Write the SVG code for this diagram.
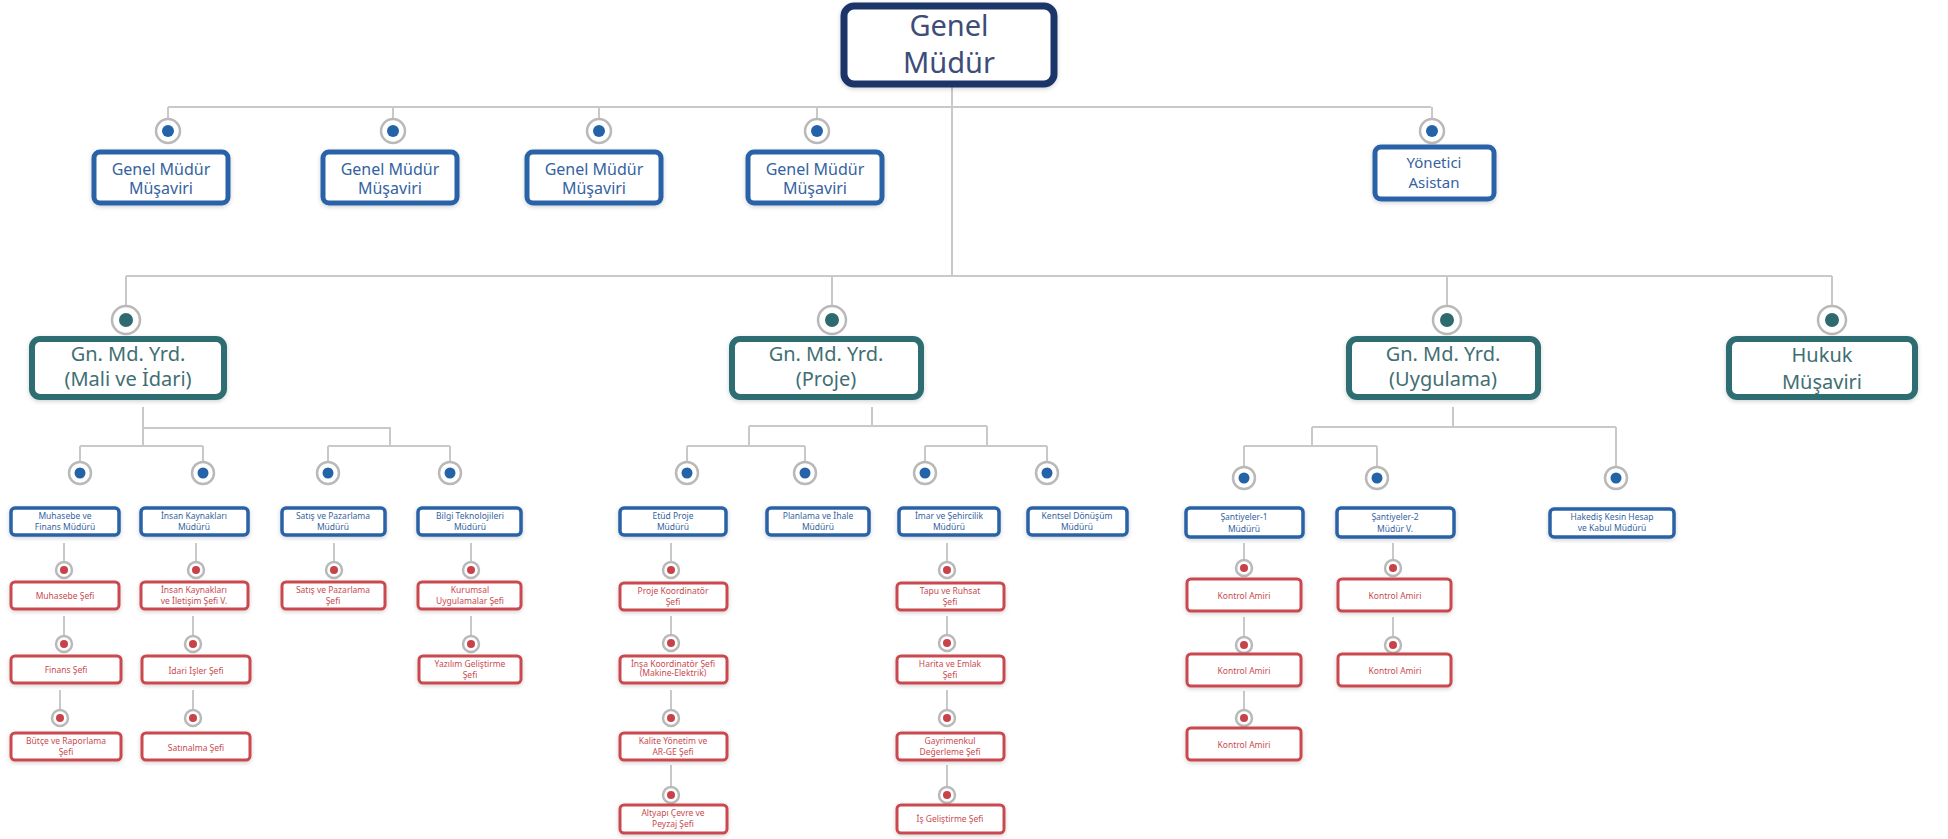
<svg xmlns="http://www.w3.org/2000/svg" width="1948" height="839" viewBox="0 0 1948 839">
<defs>
<filter id="sh" x="-10%" y="-20%" width="120%" height="140%"><feDropShadow dx="0" dy="1.5" stdDeviation="2" flood-color="#000" flood-opacity="0.18"/></filter>
<style>
text{font-family:"Noto Sans","DejaVu Sans",sans-serif;text-anchor:middle}
.ln{stroke:#c9c9c9;stroke-width:2;fill:none}
.ring{fill:#fff;stroke:#b9b9b9;stroke-width:2.5}
.gm rect{fill:#fff;stroke:#1e3569;stroke-width:7;filter:url(#sh)}
.gm text{fill:#3d4d78;font-size:29px}
.bl rect{fill:#fff;stroke:#2a62a8;stroke-width:5;filter:url(#sh)}
.bl text{fill:#3463a0}
.bs rect{fill:#fff;stroke:#2a62a8;stroke-width:3.5;filter:url(#sh)}
.bs text{fill:#3463a0;font-size:8.5px}
.tl rect{fill:#fff;stroke:#2f6e73;stroke-width:6;filter:url(#sh)}
.tl text{fill:#3f6f73;font-size:20px}
.rd rect{fill:#fff;stroke:#c94a50;stroke-width:3;filter:url(#sh)}
.rd text{fill:#c94a50;font-size:8.5px}
.db{fill:#2563a8}.dt{fill:#2e6b70}.dr{fill:#c9424a}
</style>
</defs>
<rect width="1948" height="839" fill="#fff"/>
<g id="connectors">
<path class="ln" d="M952 87V276M168 107H1431M168 107V118M393 107V118M599 107V118M817 107V118M1432 107V118"/>
<path class="ln" d="M126 276H1832M126 276V305M832 276V305M1447 276V305M1832 276V305"/>
<path class="ln" d="M143 407V446M143 428H390V446M80 446H203M328 446H450M80 446V461M203 446V461M328 446V461M450 446V461"/>
<path class="ln" d="M872 407V426M749 426H987M749 426V446M987 426V446M687 446H805M925 446H1047M687 446V461M805 446V461M925 446V461M1047 446V461"/>
<path class="ln" d="M1453 407V427M1312 427H1616M1312 427V446M1244 446H1377M1244 446V466M1377 446V466M1616 427V466"/>
<path class="ln" d="M64 543V561M64 616V635M60 690V709M196 543V561M193 616V635M193 690V709M334 543V561M471 543V561M471 616V635"/>
<path class="ln" d="M671 543V561M671 616V634M671 690V709M671 765V786M947 543V561M947 616V634M947 690V709M947 765V786"/>
<path class="ln" d="M1244 543V559M1244 617V636M1244 691V709M1393 543V559M1393 617V636"/>
</g>
<g id="markers">
<g><circle class="ring" cx="168" cy="131" r="12"/><circle class="db" cx="168" cy="131" r="6"/></g>
<g><circle class="ring" cx="393" cy="131" r="12"/><circle class="db" cx="393" cy="131" r="6"/></g>
<g><circle class="ring" cx="599" cy="131" r="12"/><circle class="db" cx="599" cy="131" r="6"/></g>
<g><circle class="ring" cx="817" cy="131" r="12"/><circle class="db" cx="817" cy="131" r="6"/></g>
<g><circle class="ring" cx="1432" cy="131" r="12"/><circle class="db" cx="1432" cy="131" r="6"/></g>
<g><circle class="ring" cx="126" cy="320" r="14"/><circle class="dt" cx="126" cy="320" r="7"/></g>
<g><circle class="ring" cx="832" cy="320" r="14"/><circle class="dt" cx="832" cy="320" r="7"/></g>
<g><circle class="ring" cx="1447" cy="320" r="14"/><circle class="dt" cx="1447" cy="320" r="7"/></g>
<g><circle class="ring" cx="1832" cy="320" r="14"/><circle class="dt" cx="1832" cy="320" r="7"/></g>
<g><circle class="ring" cx="80" cy="473" r="11"/><circle class="db" cx="80" cy="473" r="5.5"/></g>
<g><circle class="ring" cx="203" cy="473" r="11"/><circle class="db" cx="203" cy="473" r="5.5"/></g>
<g><circle class="ring" cx="328" cy="473" r="11"/><circle class="db" cx="328" cy="473" r="5.5"/></g>
<g><circle class="ring" cx="450" cy="473" r="11"/><circle class="db" cx="450" cy="473" r="5.5"/></g>
<g><circle class="ring" cx="687" cy="473" r="11"/><circle class="db" cx="687" cy="473" r="5.5"/></g>
<g><circle class="ring" cx="805" cy="473" r="11"/><circle class="db" cx="805" cy="473" r="5.5"/></g>
<g><circle class="ring" cx="925" cy="473" r="11"/><circle class="db" cx="925" cy="473" r="5.5"/></g>
<g><circle class="ring" cx="1047" cy="473" r="11"/><circle class="db" cx="1047" cy="473" r="5.5"/></g>
<g><circle class="ring" cx="1244" cy="478" r="11"/><circle class="db" cx="1244" cy="478" r="5.5"/></g>
<g><circle class="ring" cx="1377" cy="478" r="11"/><circle class="db" cx="1377" cy="478" r="5.5"/></g>
<g><circle class="ring" cx="1616" cy="478" r="11"/><circle class="db" cx="1616" cy="478" r="5.5"/></g>
<g><circle class="ring" cx="64" cy="570" r="8"/><circle class="dr" cx="64" cy="570" r="4"/></g>
<g><circle class="ring" cx="64" cy="644" r="8"/><circle class="dr" cx="64" cy="644" r="4"/></g>
<g><circle class="ring" cx="60" cy="718" r="8"/><circle class="dr" cx="60" cy="718" r="4"/></g>
<g><circle class="ring" cx="196" cy="570" r="8"/><circle class="dr" cx="196" cy="570" r="4"/></g>
<g><circle class="ring" cx="193" cy="644" r="8"/><circle class="dr" cx="193" cy="644" r="4"/></g>
<g><circle class="ring" cx="193" cy="718" r="8"/><circle class="dr" cx="193" cy="718" r="4"/></g>
<g><circle class="ring" cx="334" cy="570" r="8"/><circle class="dr" cx="334" cy="570" r="4"/></g>
<g><circle class="ring" cx="471" cy="570" r="8"/><circle class="dr" cx="471" cy="570" r="4"/></g>
<g><circle class="ring" cx="471" cy="644" r="8"/><circle class="dr" cx="471" cy="644" r="4"/></g>
<g><circle class="ring" cx="671" cy="570" r="8"/><circle class="dr" cx="671" cy="570" r="4"/></g>
<g><circle class="ring" cx="671" cy="643" r="8"/><circle class="dr" cx="671" cy="643" r="4"/></g>
<g><circle class="ring" cx="671" cy="718" r="8"/><circle class="dr" cx="671" cy="718" r="4"/></g>
<g><circle class="ring" cx="671" cy="795" r="8"/><circle class="dr" cx="671" cy="795" r="4"/></g>
<g><circle class="ring" cx="947" cy="570" r="8"/><circle class="dr" cx="947" cy="570" r="4"/></g>
<g><circle class="ring" cx="947" cy="643" r="8"/><circle class="dr" cx="947" cy="643" r="4"/></g>
<g><circle class="ring" cx="947" cy="718" r="8"/><circle class="dr" cx="947" cy="718" r="4"/></g>
<g><circle class="ring" cx="947" cy="795" r="8"/><circle class="dr" cx="947" cy="795" r="4"/></g>
<g><circle class="ring" cx="1244" cy="568" r="8"/><circle class="dr" cx="1244" cy="568" r="4"/></g>
<g><circle class="ring" cx="1244" cy="645" r="8"/><circle class="dr" cx="1244" cy="645" r="4"/></g>
<g><circle class="ring" cx="1244" cy="718" r="8"/><circle class="dr" cx="1244" cy="718" r="4"/></g>
<g><circle class="ring" cx="1393" cy="568" r="8"/><circle class="dr" cx="1393" cy="568" r="4"/></g>
<g><circle class="ring" cx="1393" cy="645" r="8"/><circle class="dr" cx="1393" cy="645" r="4"/></g>
</g>
<g id="genel-mudur" class="gm"><rect x="844" y="6" width="210" height="78" rx="10"/><text x="949" y="36">Genel</text><text x="949" y="73">Müdür</text></g>
<g id="musavir-1" class="bl" font-size="16"><rect x="94" y="152" width="134" height="51" rx="6"/><text x="161" y="175">Genel Müdür</text><text x="161" y="194">Müşaviri</text></g>
<g id="musavir-2" class="bl" font-size="16"><rect x="323" y="152" width="134" height="51" rx="6"/><text x="390" y="175">Genel Müdür</text><text x="390" y="194">Müşaviri</text></g>
<g id="musavir-3" class="bl" font-size="16"><rect x="527" y="152" width="134" height="51" rx="6"/><text x="594" y="175">Genel Müdür</text><text x="594" y="194">Müşaviri</text></g>
<g id="musavir-4" class="bl" font-size="16"><rect x="748" y="152" width="134" height="51" rx="6"/><text x="815" y="175">Genel Müdür</text><text x="815" y="194">Müşaviri</text></g>
<g id="yonetici-asistan" class="bl" font-size="15"><rect x="1375" y="147" width="119" height="52" rx="6"/><text x="1434" y="168">Yönetici</text><text x="1434" y="188">Asistan</text></g>
<g id="gmy-mali" class="tl"><rect x="32" y="339" width="192" height="58" rx="8"/><text x="128" y="361">Gn. Md. Yrd.</text><text x="128" y="386">(Mali ve İdari)</text></g>
<g id="gmy-proje" class="tl"><rect x="732" y="339" width="189" height="58" rx="8"/><text x="826" y="361">Gn. Md. Yrd.</text><text x="826" y="386">(Proje)</text></g>
<g id="gmy-uygulama" class="tl"><rect x="1349" y="339" width="189" height="58" rx="8"/><text x="1443" y="361">Gn. Md. Yrd.</text><text x="1443" y="386">(Uygulama)</text></g>
<g id="hukuk-musaviri" class="tl"><rect x="1729" y="339" width="186" height="58" rx="8"/><text x="1822" y="362" font-size="22">Hukuk</text><text x="1822" y="389" font-size="22">Müşaviri</text></g>
<g id="muhasebe-finans-muduru" class="bs"><rect x="11" y="508" width="108" height="27" rx="4"/><text x="65" y="519">Muhasebe ve</text><text x="65" y="530">Finans Müdürü</text></g>
<g id="insan-kaynaklari-muduru" class="bs"><rect x="141" y="508" width="107" height="27" rx="4"/><text x="194" y="519">İnsan Kaynakları</text><text x="194" y="530">Müdürü</text></g>
<g id="satis-pazarlama-muduru" class="bs"><rect x="282" y="508" width="103" height="27" rx="4"/><text x="333" y="519">Satış ve Pazarlama</text><text x="333" y="530">Müdürü</text></g>
<g id="bilgi-teknolojileri-muduru" class="bs"><rect x="418" y="508" width="103" height="27" rx="4"/><text x="470" y="519">Bilgi Teknolojileri</text><text x="470" y="530">Müdürü</text></g>
<g id="muhasebe-sefi" class="rd"><rect x="11" y="582" width="108" height="27" rx="4"/><text x="65" y="599" font-size="11">Muhasebe Şefi</text></g>
<g id="finans-sefi" class="rd"><rect x="11" y="656" width="110" height="27" rx="4"/><text x="66" y="673" font-size="10">Finans Şefi</text></g>
<g id="butce-raporlama-sefi" class="rd"><rect x="11" y="733" width="110" height="27" rx="4"/><text x="66" y="744" font-size="8">Bütçe ve Raporlama</text><text x="66" y="755" font-size="8">Şefi</text></g>
<g id="ik-iletisim-sefi" class="rd"><rect x="141" y="582" width="107" height="27" rx="4"/><text x="194" y="593">İnsan Kaynakları</text><text x="194" y="604">ve İletişim Şefi V.</text></g>
<g id="idari-isler-sefi" class="rd"><rect x="142" y="656" width="108" height="27" rx="4"/><text x="196" y="674" font-size="12">İdari İşler Şefi</text></g>
<g id="satinalma-sefi" class="rd"><rect x="142" y="733" width="108" height="27" rx="4"/><text x="196" y="751" font-size="11">Satınalma Şefi</text></g>
<g id="satis-pazarlama-sefi" class="rd"><rect x="282" y="582" width="103" height="27" rx="4"/><text x="333" y="593">Satış ve Pazarlama</text><text x="333" y="604">Şefi</text></g>
<g id="kurumsal-uygulamalar-sefi" class="rd"><rect x="418" y="582" width="103" height="27" rx="4"/><text x="470" y="593">Kurumsal</text><text x="470" y="604">Uygulamalar Şefi</text></g>
<g id="yazilim-gelistirme-sefi" class="rd"><rect x="419" y="656" width="102" height="27" rx="4"/><text x="470" y="667">Yazılım Geliştirme</text><text x="470" y="678">Şefi</text></g>
<g id="etud-proje-muduru" class="bs"><rect x="620" y="508" width="106" height="27" rx="4"/><text x="673" y="519">Etüd Proje</text><text x="673" y="530">Müdürü</text></g>
<g id="planlama-ihale-muduru" class="bs"><rect x="767" y="508" width="102" height="27" rx="4"/><text x="818" y="519">Planlama ve İhale</text><text x="818" y="530">Müdürü</text></g>
<g id="imar-sehircilik-muduru" class="bs"><rect x="899" y="508" width="100" height="27" rx="4"/><text x="949" y="519">İmar ve Şehircilik</text><text x="949" y="530">Müdürü</text></g>
<g id="kentsel-donusum-muduru" class="bs"><rect x="1028" y="508" width="99" height="27" rx="4"/><text x="1077" y="519">Kentsel Dönüşüm</text><text x="1077" y="530">Müdürü</text></g>
<g id="proje-koordinator-sefi" class="rd"><rect x="620" y="583" width="107" height="27" rx="4"/><text x="673" y="594">Proje Koordinatör</text><text x="673" y="605">Şefi</text></g>
<g id="insa-koordinator-sefi" class="rd"><rect x="620" y="656" width="107" height="27" rx="4"/><text x="673" y="667" font-size="7">İnşa Koordinatör Şefi</text><text x="673" y="676" font-size="7">(Makine-Elektrik)</text></g>
<g id="kalite-arge-sefi" class="rd"><rect x="620" y="733" width="107" height="27" rx="4"/><text x="673" y="744">Kalite Yönetim ve</text><text x="673" y="755">AR-GE Şefi</text></g>
<g id="altyapi-peyzaj-sefi" class="rd"><rect x="620" y="805" width="107" height="28" rx="4"/><text x="673" y="816">Altyapı Çevre ve</text><text x="673" y="827">Peyzaj Şefi</text></g>
<g id="tapu-ruhsat-sefi" class="rd"><rect x="897" y="583" width="107" height="27" rx="4"/><text x="950" y="594">Tapu ve Ruhsat</text><text x="950" y="605">Şefi</text></g>
<g id="harita-emlak-sefi" class="rd"><rect x="897" y="656" width="107" height="27" rx="4"/><text x="950" y="667">Harita ve Emlak</text><text x="950" y="678">Şefi</text></g>
<g id="gayrimenkul-degerleme-sefi" class="rd"><rect x="897" y="733" width="107" height="27" rx="4"/><text x="950" y="744">Gayrimenkul</text><text x="950" y="755">Değerleme Şefi</text></g>
<g id="is-gelistirme-sefi" class="rd"><rect x="897" y="805" width="107" height="28" rx="4"/><text x="950" y="822" font-size="9">İş Geliştirme Şefi</text></g>
<g id="santiyeler-1-muduru" class="bs"><rect x="1186" y="508" width="117" height="29" rx="4"/><text x="1244" y="520" font-size="10">Şantiyeler-1</text><text x="1244" y="532" font-size="10">Müdürü</text></g>
<g id="santiyeler-2-muduru" class="bs"><rect x="1337" y="508" width="117" height="29" rx="4"/><text x="1395" y="520" font-size="10">Şantiyeler-2</text><text x="1395" y="532" font-size="10">Müdür V.</text></g>
<g id="hakedis-muduru" class="bs"><rect x="1550" y="509" width="124" height="28" rx="4"/><text x="1612" y="520">Hakediş Kesin Hesap</text><text x="1612" y="531">ve Kabul Müdürü</text></g>
<g id="kontrol-amiri-1a" class="rd"><rect x="1187" y="579" width="114" height="32" rx="4"/><text x="1244" y="599" font-size="12">Kontrol Amiri</text></g>
<g id="kontrol-amiri-1b" class="rd"><rect x="1187" y="654" width="114" height="32" rx="4"/><text x="1244" y="674" font-size="12">Kontrol Amiri</text></g>
<g id="kontrol-amiri-1c" class="rd"><rect x="1187" y="728" width="114" height="32" rx="4"/><text x="1244" y="748" font-size="12">Kontrol Amiri</text></g>
<g id="kontrol-amiri-2a" class="rd"><rect x="1338" y="579" width="113" height="32" rx="4"/><text x="1395" y="599" font-size="12">Kontrol Amiri</text></g>
<g id="kontrol-amiri-2b" class="rd"><rect x="1338" y="654" width="113" height="32" rx="4"/><text x="1395" y="674" font-size="12">Kontrol Amiri</text></g>
</svg>
